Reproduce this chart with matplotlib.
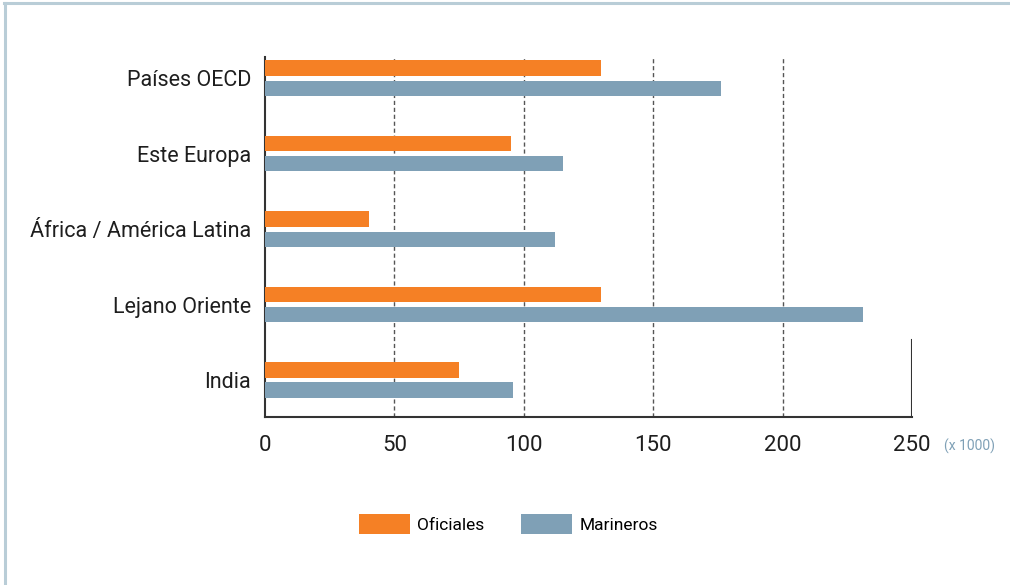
import matplotlib
matplotlib.use("Agg")
import matplotlib.pyplot as plt
from matplotlib.lines import Line2D
from matplotlib.patches import Patch
import numpy as np

plt.rcParams["font.family"] = ["Roboto", "DejaVu Sans"]

# ── Data (x 1000) ──
categories = ["Países OECD", "Este Europa", "África / América Latina", "Lejano Oriente", "India"]
oficiales = [130, 95, 40, 130, 75]
marineros = [176, 115, 112, 231, 96]
xticks = [0, 50, 100, 150, 200, 250]

ORANGE = "#F58025"
BLUE = "#7FA0B6"
FRAME = "#B9CDD7"
DARK = "#333333"

fig = plt.figure(figsize=(10.10, 5.85), dpi=100)
ax = fig.add_axes([0.2624, 0.2872, 0.6406, 0.6155])

y = np.arange(len(categories))[::-1]
h = 0.2
off = 0.133
ax.barh(y + off, oficiales, height=h, color=ORANGE, zorder=3)
ax.barh(y - off, marineros, height=h, color=BLUE, zorder=3)

ax.set_xlim(0, 250)
ax.set_ylim(-0.49, 4.28)
ax.set_yticks(y)
ax.set_yticklabels(categories, fontsize=15.5, color="#1e1e1e")
ax.set_xticks(xticks)
ax.set_xticklabels([str(t) for t in xticks], fontsize=16, color="#1e1e1e")
ax.tick_params(axis="both", length=0)
ax.tick_params(axis="y", pad=10)
ax.tick_params(axis="x", pad=13)

for t in xticks[1:-1]:
    ax.axvline(t, color="#555555", linestyle=(0, (3, 2)), linewidth=1.0, zorder=2)
# short closing line at the right end
ax.axvline(250, ymin=0, ymax=0.215, color=DARK, linewidth=1.5, zorder=2)

for side in ("top", "right"):
    ax.spines[side].set_visible(False)
for side in ("left", "bottom"):
    ax.spines[side].set_color(DARK)
    ax.spines[side].set_linewidth(1.5)

fig.text(0.935, 0.2365, "(x 1000)", fontsize=10, color=BLUE, va="center", ha="left")

handles = [Patch(facecolor=ORANGE, label="Oficiales"), Patch(facecolor=BLUE, label="Marineros")]
fig.legend(handles=handles, loc="center", bbox_to_anchor=(0.5035, 0.1043), ncol=2,
           frameon=False, fontsize=12.5, handlelength=2.9, handleheight=1.35,
           handletextpad=0.45, columnspacing=2.1)

# outer frame (top and left)
fig.add_artist(Line2D([0.004, 1.0], [0.9945, 0.9945], color=FRAME, linewidth=2.2))
fig.add_artist(Line2D([0.0045, 0.0045], [0.0, 0.9945], color=FRAME, linewidth=2.2))

fig.savefig("out.png", dpi=100)
